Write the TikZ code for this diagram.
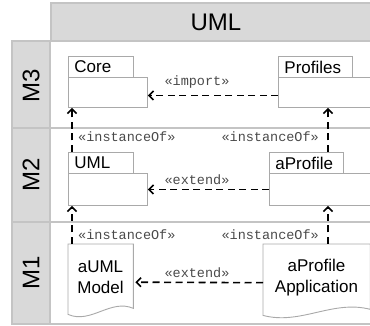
\documentclass[tikz,border=0pt]{standalone}
\usepackage{fontspec}
\setmainfont{Liberation Sans}
\newfontfamily\stereofont{Liberation Mono}
\usetikzlibrary{arrows.meta,calc}

\definecolor{lanefill}{HTML}{D9D9D9}
\definecolor{laneline}{HTML}{C4C4C4}
\definecolor{pkgline}{HTML}{A9A9A9}
\definecolor{stereotext}{HTML}{4A4A4A}

\tikzset{
  cell/.style={draw=laneline, fill=lanefill, line width=1.6pt},
  lane/.style={draw=laneline, line width=1.6pt},
  hdrbox/.style={cell, minimum width=330pt, minimum height=38pt, inner sep=0pt,
    font=\fontsize{24}{28}\selectfont},
  mlabel/.style={rotate=90, inner sep=0pt, font=\fontsize{24}{28}\selectfont},
  pkgtab/.style={draw=pkgline, fill=white, line width=0.9pt, anchor=north west,
    inner xsep=6pt, inner ysep=0pt, minimum height=21pt, align=left,
    font=\fontsize{17}{19}\selectfont},
  pkgbody/.style={draw=pkgline, fill=white, line width=0.9pt, anchor=north west,
    inner sep=0pt},
  docnode/.style={anchor=north west, inner sep=0pt, align=center,
    font=\fontsize{17}{21}\selectfont},
  docline/.style={draw=pkgline, fill=white, line width=0.9pt},
  dep/.style={dash pattern=on 7pt off 4.5pt, line width=1.6pt,
    -{Straight Barb[length=4.5pt,width=9pt,line width=1.6pt]}},
  stereo/.style={inner sep=0pt, text=stereotext, font=\stereofont\fontsize{13.5}{15}\selectfont},
}

% outline of a document shape with a wavy lower edge
\newcommand\docoutline[1]{%
  \path[docline] (#1.north west) -- (#1.north east)
    -- ($(#1.south east)+(0,-4)$)
    .. controls ($(#1.south west)!0.65!(#1.south east)+(0,-14)$)
       and ($(#1.south west)!0.35!(#1.south east)+(0,12)$)
    .. ($(#1.south west)+(0,2)$) -- cycle;}

\begin{document}
\begin{tikzpicture}[x=1pt,y=-1pt]
\useasboundingbox (0,0) rectangle (370,326);

% title bar
\node[hdrbox] (hdr) at (216,22) {UML};

% swim lanes and their level labels
\draw[lane] (50,41) rectangle (384,128);
\draw[lane] (50,128) rectangle (384,222);
\draw[lane] (50,222) rectangle (384,324);
\draw[cell] (12,41) rectangle (50,128);
\draw[cell] (12,128) rectangle (50,222);
\draw[cell] (12,222) rectangle (50,324);
\node[mlabel] (m3) at (31,86) {M3};
\node[mlabel] (m2) at (31,175) {M2};
\node[mlabel] (m1) at (31,273) {M1};

% M3 packages
\node[pkgtab, text width=53pt] (coretab) at (68,56) {Core};
\node[pkgbody, minimum width=79pt, minimum height=30pt] (core) at (68,77) {};
\node[pkgtab, text width=62pt] (proftab) at (278,56) {Profiles};
\node[pkgbody, minimum width=92pt, minimum height=30pt] (profiles) at (278,77) {};

% M2 packages
\node[pkgtab, text width=53pt] (umltab) at (68,152) {UML};
\node[pkgbody, minimum width=79pt, minimum height=32pt] (umlbody) at (68,173) {};
\node[pkgtab, text width=62pt] (aptab) at (269,152) {aProfile};
\node[pkgbody, minimum width=101pt, minimum height=32pt] (apbody) at (269,173) {};

% M1 documents
\node[docnode, minimum width=65pt, minimum height=68pt] (auml) at (68,244) {};
\node[docnode, minimum width=107pt, minimum height=69pt] (apapp) at (263,244) {};
\docoutline{auml}
\docoutline{apapp}
\node[docnode, anchor=center] (aumltext) at (100.5,277.5) {aUML\\Model};
\node[docnode, anchor=center] (apapptext) at (316.5,277.5) {aProfile\\Application};

% dependencies within a level
\draw[dep] ([yshift=-3pt]profiles.west) -- ([yshift=-3pt]core.east);
\draw[dep] (apbody.west) -- (umlbody.east);
\draw[dep] ([yshift=-4pt]apapp.west) -- ([yshift=-4pt,xshift=2pt]auml.east);

% instantiation between levels
\coordinate (il2) at ([xshift=4pt]umltab.north west);
\coordinate (ir2) at ([xshift=59pt]aptab.north west);
\coordinate (il1) at ([xshift=4pt]auml.north west);
\coordinate (ir1) at ([xshift=65pt]apapp.north west);
\draw[dep] (il2) -- (il2 |- core.south);
\draw[dep] (ir2) -- (ir2 |- profiles.south);
\draw[dep] (il1) -- (il1 |- umlbody.south);
\draw[dep] (ir1) -- (ir1 |- apbody.south);

% stereotype labels
\node[stereo] (simport) at (197,82) {«import»};
\node[stereo] (sext2) at (197,180) {«extend»};
\node[stereo] (sext1) at (197,273) {«extend»};
\node[stereo, anchor=west] (sinst2l) at (78,137) {«instanceOf»};
\node[stereo, anchor=east] (sinst2r) at (319,137) {«instanceOf»};
\node[stereo, anchor=west] (sinst1l) at (78,235) {«instanceOf»};
\node[stereo, anchor=east] (sinst1r) at (319,235) {«instanceOf»};
\end{tikzpicture}
\end{document}
